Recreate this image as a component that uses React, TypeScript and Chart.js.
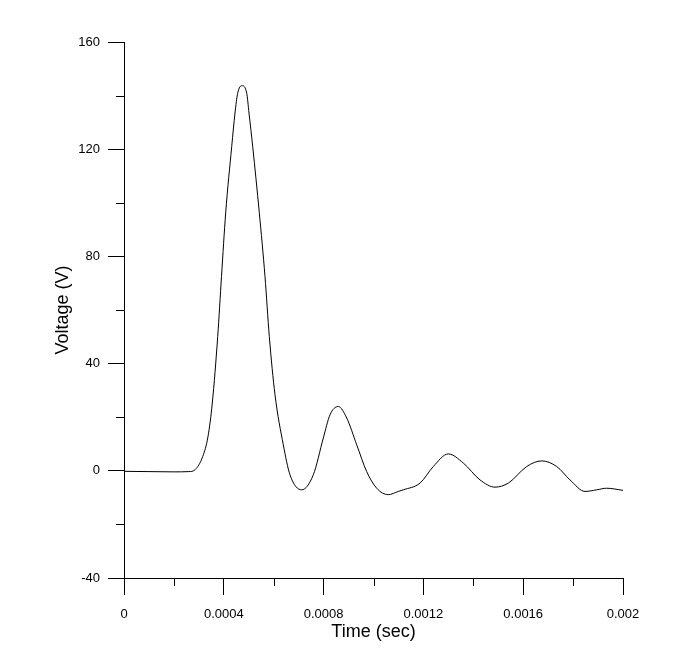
import React, { useEffect, useRef } from "react";
import { Chart, registerables } from "chart.js";

Chart.register(...registerables);

const timeSec = [
  0, 0.0001, 0.0002, 0.00026, 0.0002846, 0.0003154, 0.0003367, 0.0003539, 0.0003756,
  0.0003908, 0.0004076, 0.0004317, 0.0004449, 0.0004557, 0.000473, 0.0004918, 0.000501,
  0.0005158, 0.0005423, 0.0005651, 0.0005824, 0.0006052, 0.0006385, 0.0006653, 0.0007122,
  0.0007587, 0.0007988, 0.0008257, 0.0008589, 0.0008926, 0.0009327, 0.0009727, 0.0010128,
  0.0010593, 0.0010994, 0.0011194, 0.0011864, 0.0012397, 0.0012998, 0.0013599, 0.0014269,
  0.001487, 0.0015403, 0.001614, 0.0016741, 0.0017343, 0.0017876, 0.0018477, 0.0018946,
  0.0019347, 0.002,
];
const voltage = [
  -0.2, -0.3, -0.4, -0.3, 0.4, 5.3, 12.8, 25.3, 50.1,
  72.5, 96.3, 121, 133.5, 140.9, 143.7, 140.9, 133.5,
  121, 96.3, 72.5, 50.1, 28.4, 9.7, -1.5, -7.1,
  -1.5, 12.2, 20.9, 24.0, 19.7, 9.7, -0.3, -6.5,
  -8.9, -7.7, -7.1, -4.6, 1.6, 6.3, 2.9, -3.4,
  -6.1, -4.6, 1.6, 3.7, 1.6, -3.4, -7.7, -7.1,
  -6.5, -7.3,
];

const xTickValues = [0, 0.0004, 0.0008, 0.0012, 0.0016, 0.002];
const xTickLabels = ["0", "0.0004", "0.0008", "0.0012", "0.0016", "0.002"];
const xMinorTicks = [0.0002, 0.0006, 0.001, 0.0014, 0.0018];
const yTickValues = [-40, 0, 40, 80, 120, 160];
const yTickLabels = ["-40", "0", "40", "80", "120", "160"];
const yMinorTicks = [-20, 20, 60, 100, 140];

const FONT = "'Liberation Sans', Arial, Helvetica, sans-serif";

const minorTickPlugin = {
  id: "minorTicks",
  afterDraw(chart: any) {
    const ctx = chart.ctx;
    const xs = chart.scales.x;
    const ys = chart.scales.y;
    ctx.save();
    ctx.strokeStyle = "#000";
    ctx.lineWidth = 1;
    ctx.beginPath();
    for (const v of xMinorTicks) {
      const px = Math.round(xs.getPixelForValue(v)) + 0.5;
      ctx.moveTo(px, xs.top);
      ctx.lineTo(px, xs.top + 8);
    }
    for (const v of yMinorTicks) {
      const py = Math.round(ys.getPixelForValue(v)) + 0.5;
      ctx.moveTo(ys.right, py);
      ctx.lineTo(ys.right - 8, py);
    }
    ctx.stroke();
    ctx.restore();
  },
};

export default function App() {
  const ref = useRef<HTMLCanvasElement | null>(null);

  useEffect(() => {
    if (!ref.current) return;
    const chart = new Chart(ref.current, {
      type: "line",
      data: {
        datasets: [
          {
            data: timeSec.map((t, i) => ({ x: t, y: voltage[i] })),
            borderColor: "#000",
            borderWidth: 1,
            pointRadius: 0,
            fill: false,
            cubicInterpolationMode: "monotone",
          },
        ],
      },
      options: {
        animation: false,
        responsive: true,
        maintainAspectRatio: false,
        layout: { padding: { left: 0, right: 70, top: 42, bottom: 0 } },
        plugins: { legend: { display: false }, tooltip: { enabled: false } },
        scales: {
          x: {
            type: "linear",
            min: 0,
            max: 0.002,
            afterBuildTicks: (s: any) => {
              s.ticks = xTickValues.map((v) => ({ value: v }));
            },
            afterFit: (s: any) => {
              s.height = 78;
            },
            ticks: {
              color: "#000",
              font: { family: FONT, size: 13 },
              padding: 12,
              maxRotation: 0,
              autoSkip: false,
              callback: (_v: any, i: number) => xTickLabels[i],
            },
            grid: {
              drawOnChartArea: false,
              drawTicks: true,
              tickLength: 17,
              tickColor: "#000",
              color: "#000",
            },
            border: { display: true, color: "#000", width: 1 },
            title: {
              display: true,
              text: "Time (sec)",
              color: "#000",
              font: { family: FONT, size: 18 },
              padding: { top: 0, bottom: 13 },
            },
          },
          y: {
            type: "linear",
            min: -40,
            max: 160,
            afterBuildTicks: (s: any) => {
              s.ticks = yTickValues.map((v) => ({ value: v }));
            },
            afterFit: (s: any) => {
              s.width = 124;
            },
            ticks: {
              color: "#000",
              font: { family: FONT, size: 13 },
              padding: 8,
              autoSkip: false,
              callback: (_v: any, i: number) => yTickLabels[i],
            },
            grid: {
              drawOnChartArea: false,
              drawTicks: true,
              tickLength: 16,
              tickColor: "#000",
              color: "#000",
            },
            border: { display: true, color: "#000", width: 1 },
            title: {
              display: true,
              text: "Voltage (V)",
              color: "#000",
              font: { family: FONT, size: 18 },
              padding: { top: 52, bottom: 0 },
            },
          },
        },
      },
      plugins: [minorTickPlugin],
    } as any);
    return () => chart.destroy();
  }, []);

  return (
    <div
      style={{
        position: "fixed",
        left: 0,
        top: 0,
        width: 693,
        height: 656,
        background: "#fff",
      }}
    >
      <canvas ref={ref} />
    </div>
  );
}
